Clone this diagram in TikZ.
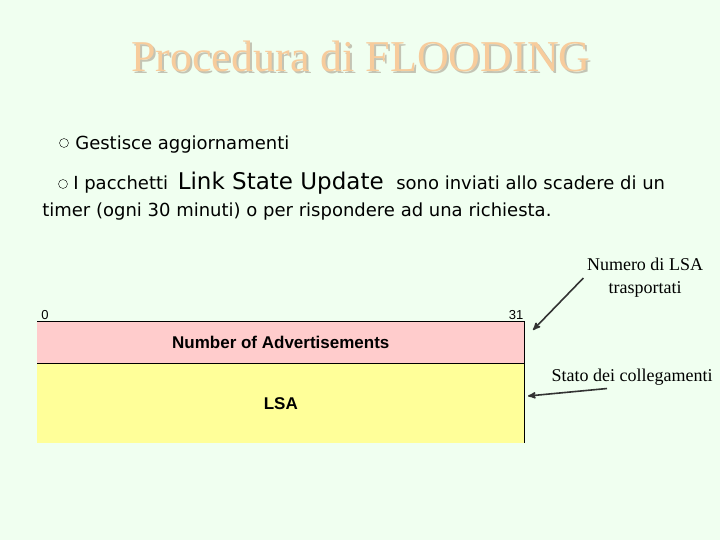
\documentclass[tikz,border=0pt]{standalone}
\usepackage{fontspec}
\setmainfont{Liberation Serif}
\newfontfamily\bodyfont{DejaVu Sans}
\newfontfamily\boxfont{Liberation Sans}
\usetikzlibrary{arrows,positioning}

\definecolor{bgcol}{HTML}{F0FFF0}
\definecolor{titlecol}{HTML}{F7CC9C}
\definecolor{shadowcol}{HTML}{C4C4B4}
\definecolor{pinkcol}{HTML}{FFCCCC}
\definecolor{yellowcol}{HTML}{FFFF99}

\newcommand{\shadowed}[1]{\rlap{\raisebox{-2pt}{\hspace{2pt}\color{shadowcol}#1}}#1}

\begin{document}
\begin{tikzpicture}[x=1pt,y=1pt,>=stealth',semithick]

  \tikzstyle{field}=[rectangle,minimum width=487pt,inner sep=0pt,
                     font=\boxfont\bfseries\fontsize{17}{19}\selectfont]
  \tikzstyle{bitnum}=[inner sep=1pt,font=\boxfont\fontsize{13}{15}\selectfont]
  \tikzstyle{item}=[inner sep=0pt,font=\bodyfont\fontsize{18}{21}\selectfont]
  \tikzstyle{bullet}=[circle,draw,thin,inner sep=0pt,minimum size=9pt]
  \tikzstyle{note}=[align=center,font=\fontsize{18}{23}\selectfont]
  \tikzstyle{arrow}=[->,line width=1.6pt,black!80]

  \fill[bgcol] (0,0) rectangle (720,-540);
  \useasboundingbox (0,0) rectangle (720,-540);

  % title
  \node[text=titlecol,font=\fontsize{44}{48}\selectfont] (title) at (361,-57) {\shadowed{Procedura di FLOODING}};

  % bullets
  \node[bullet] (b1) at (64,-143) {};
  \node[bullet] (b2) at (63,-184) {};
  \node[item,anchor=base west] (item1) at (75,-150) {Gestisce aggiornamenti};
  \node[item,anchor=base west] (item2) at (73,-190) {I pacchetti};
  \node[item,base right=9pt of item2,font=\bodyfont\fontsize{23}{25}\selectfont] (lsu) {Link State Update};
  \node[item,base right=12pt of lsu] (item2b) {sono inviati allo scadere di un};
  \node[item,anchor=base west] (item3) at (42,-217) {timer (ogni 30 minuti) o per rispondere ad una richiesta.};

  % packet
  \node[field,fill=pinkcol,minimum height=42pt,anchor=north west] (nadv) at (37,-321) {Number of Advertisements};
  \node[field,fill=yellowcol,minimum height=79pt,below=0pt of nadv] (lsa) {LSA};
  \draw[thin] (nadv.north west) -- (nadv.north east) -- (lsa.south east);
  \draw[thin] (nadv.south west) -- (nadv.south east);
  \node[bitnum,anchor=south west] (bit0) at ([xshift=3pt]nadv.north west) {0};
  \node[bitnum,anchor=south east] (bit31) at (nadv.north east) {31};

  % notes
  \node[note] (note1) at (645,-278) {Numero di LSA\\trasportati};
  \node[note,anchor=base] (note2) at (632,-381) {Stato dei collegamenti};
  \coordinate (a1) at (533,-330);
  \coordinate (a2) at (528,-396);

  \path
  (note1.west) edge[arrow] (a1)
  ([xshift=-25pt]note2.south) edge[arrow] (a2);

\end{tikzpicture}
\end{document}
